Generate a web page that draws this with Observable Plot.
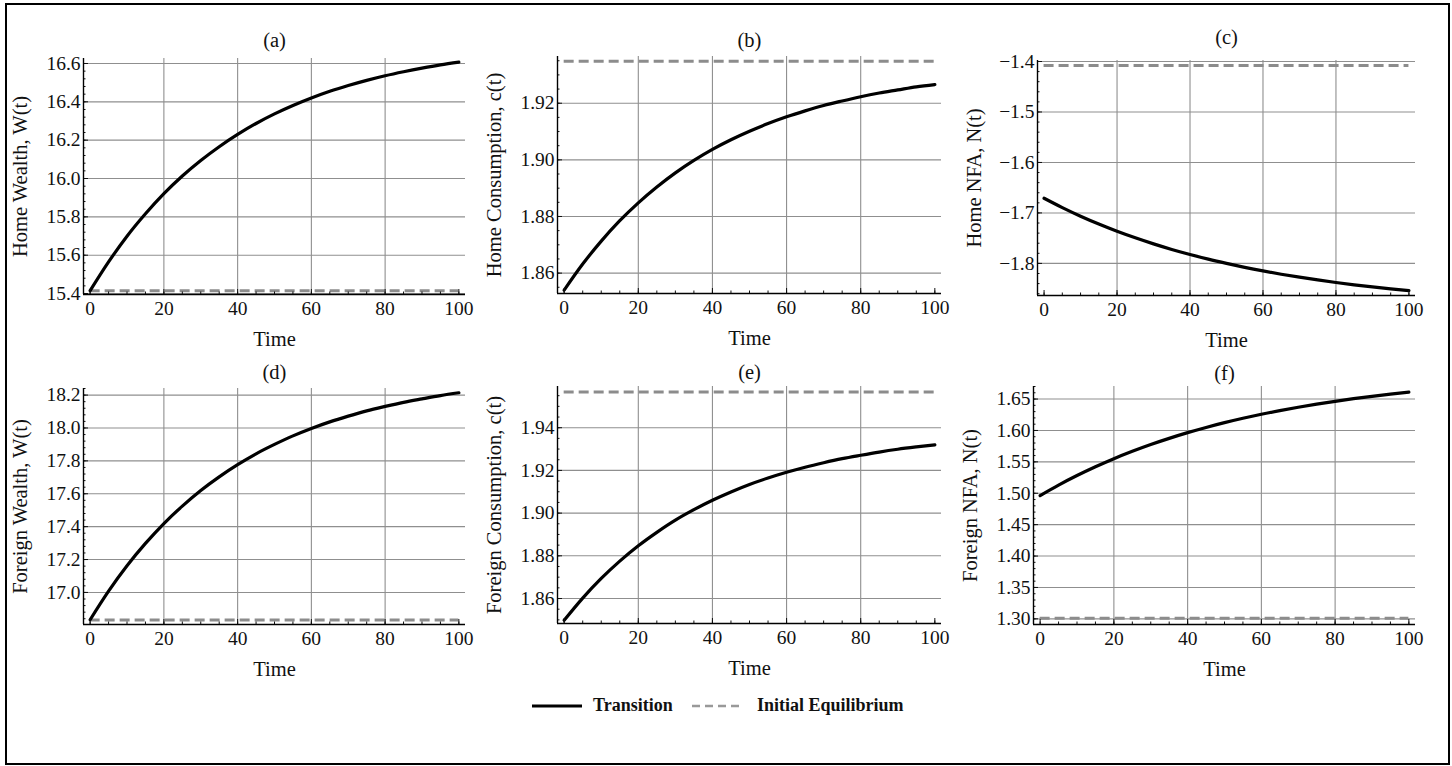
<!DOCTYPE html>
<html><head><meta charset="utf-8">
<script src="https://cdn.jsdelivr.net/npm/d3@7"></script>
<script src="https://cdn.jsdelivr.net/npm/@observablehq/plot@0.6"></script>
<style>
html,body{margin:0;padding:0;background:#fff;}
#root{position:relative;width:1452px;height:766px;overflow:hidden;font-family:"Liberation Serif","Times New Roman",serif;color:#111;}
#frame{position:absolute;left:5px;top:3px;width:1445px;height:762px;box-sizing:border-box;border:2px solid #000;}
.panel{position:absolute;}
.panel g[aria-label$="tick label"]{font-size:19.5px !important;}
.panel g[aria-label$="-axis label"]{font-size:20.5px !important;}
.leg{position:absolute;font-weight:bold;font-size:18px;line-height:20px;white-space:nowrap;}
</style></head>
<body><div id="root"><div id="frame"></div></div>
<script>
// ---------- data ----------
const time = [0,5,10,15,20,25,30,35,40,45,50,55,60,65,70,75,80,85,90,95,100];
const homeWealth = [15.415,15.565,15.699,15.816,15.921,16.013,16.094,16.166,16.230,16.287,16.337,16.381,16.420,16.455,16.485,16.512,16.536,16.557,16.576,16.593,16.607];
const homeConsumption = [1.8540,1.8632,1.8713,1.8785,1.8848,1.8904,1.8954,1.8998,1.9037,1.9071,1.9101,1.9128,1.9152,1.9173,1.9192,1.9208,1.9223,1.9236,1.9247,1.9258,1.9266];
const homeNFA = [-1.671,-1.6895,-1.7065,-1.7220,-1.7363,-1.7493,-1.7613,-1.7723,-1.7823,-1.7916,-1.8000,-1.8078,-1.8149,-1.8214,-1.8273,-1.8328,-1.8378,-1.8424,-1.8466,-1.8505,-1.8540];
const foreignWealth = [16.834,17.008,17.162,17.298,17.419,17.525,17.620,17.703,17.777,17.843,17.900,17.952,17.997,18.037,18.072,18.104,18.131,18.156,18.177,18.197,18.214];
const foreignConsumption = [1.8498,1.8602,1.8694,1.8775,1.8847,1.8910,1.8967,1.9016,1.9060,1.9099,1.9134,1.9164,1.9191,1.9215,1.9236,1.9255,1.9271,1.9286,1.9299,1.9310,1.9320];
const foreignNFA = [1.4963,1.5130,1.5282,1.5422,1.5551,1.5668,1.5776,1.5874,1.5965,1.6048,1.6124,1.6194,1.6258,1.6316,1.6370,1.6419,1.6464,1.6506,1.6544,1.6578,1.6610];

// initial equilibrium levels (dashed lines)
const initHomeWealth = 15.415;
const initHomeConsumption = 1.9348;
const initHomeNFA = -1.408;
const initForeignWealth = 16.832;
const initForeignConsumption = 1.9567;
const initForeignNFA = 1.301;

// tick labels
const xTicks = [0,20,40,60,80,100];
const xGridTicks = [20,40,60,80];
const ticksHomeWealth = [15.4,15.6,15.8,16.0,16.2,16.4,16.6];
const ticksHomeConsumption = [1.86,1.88,1.90,1.92];
const ticksHomeNFA = [-1.8,-1.7,-1.6,-1.5,-1.4];
const ticksForeignWealth = [17.0,17.2,17.4,17.6,17.8,18.0,18.2];
const ticksForeignConsumption = [1.86,1.88,1.90,1.92,1.94];
const ticksForeignNFA = [1.30,1.35,1.40,1.45,1.50,1.55,1.60,1.65];

const titles = ["(a)","(b)","(c)","(d)","(e)","(f)"];
const yLabels = ["Home Wealth, W(t)","Home Consumption, c(t)","Home NFA, N(t)","Foreign Wealth, W(t)","Foreign Consumption, c(t)","Foreign NFA, N(t)"];
const xLabel = "Time";
const legendLabels = ["Transition","Initial Equilibrium"];

// ---------- layout ----------
const xDomain = [-1.8, 101.8];
const panels = [
  {values: homeWealth, init: initHomeWealth, ticks: ticksHomeWealth, minorStep: 0.04, fmt: ".1f", yDomain: [15.395, 16.626], L: 83, R: 465, T: 58, B: 294, titleDy: -18},
  {values: homeConsumption, init: initHomeConsumption, ticks: ticksHomeConsumption, minorStep: 0.005, fmt: ".2f", yDomain: [1.8528, 1.9365], L: 557, R: 941, T: 56, B: 293, titleDy: -16},
  {values: homeNFA, init: initHomeNFA, ticks: ticksHomeNFA, minorStep: 0.02, fmt: ".1f", yDomain: [-1.8636, -1.398], L: 1037, R: 1415, T: 60, B: 295, titleDy: -23},
  {values: foreignWealth, init: initForeignWealth, ticks: ticksForeignWealth, minorStep: 0.04, fmt: ".1f", yDomain: [16.805, 18.24], L: 83, R: 465, T: 388, B: 624, titleDy: -16},
  {values: foreignConsumption, init: initForeignConsumption, ticks: ticksForeignConsumption, minorStep: 0.005, fmt: ".2f", yDomain: [1.8483, 1.9593], L: 557, R: 941, T: 386, B: 623, titleDy: -14},
  {values: foreignNFA, init: initForeignNFA, ticks: ticksForeignNFA, minorStep: 0.01, fmt: ".2f", yDomain: [1.291, 1.670], L: 1033, R: 1415, T: 386, B: 624, titleDy: -13}
];

const root = document.getElementById("root");
const mL = 84, mT = 44, mR = 12, mB = 58;
const xMinor = d3.range(0, 101, 5);

panels.forEach((p, i) => {
  const data = time.map((t, j) => ({t, v: p.values[j]}));
  const [lo, hi] = p.yDomain;
  const minor = d3.range(Math.ceil(lo / p.minorStep - 1e-6), Math.floor(hi / p.minorStep + 1e-6) + 1)
    .map(k => +(k * p.minorStep).toFixed(4));
  const width = p.R - p.L + mL + mR;
  const height = p.B - p.T + mT + mB;
  const chart = Plot.plot({
    width, height,
    marginLeft: mL, marginTop: mT, marginRight: mR, marginBottom: mB,
    style: {fontFamily: '"Liberation Serif","Times New Roman",serif', fontSize: "19px", color: "#111", background: "transparent", overflow: "visible"},
    x: {domain: xDomain},
    y: {domain: p.yDomain},
    marks: [
      Plot.gridY(p.ticks, {stroke: "#8f8f8f", strokeOpacity: 1, strokeWidth: 1.1}),
      Plot.gridX(xGridTicks, {stroke: "#8f8f8f", strokeOpacity: 1, strokeWidth: 1.1}),
      Plot.ruleY([p.init], {x1: 0, x2: 100, stroke: "#8c8c8c", strokeWidth: 3, strokeDasharray: "10,5"}),
      Plot.line(data, {x: "t", y: "v", stroke: "#000", strokeWidth: 3.2, curve: "monotone-x"}),
      Plot.axisY(minor, {tickSize: -2.5, tickFormat: () => "", label: null}),
      Plot.axisY(p.ticks, {tickSize: -5, tickFormat: () => "", label: null}),
      Plot.axisY(p.ticks, {tickSize: 0, tickPadding: 3, tickFormat: d3.format(p.fmt),
        label: yLabels[i], labelAnchor: "center", labelArrow: "none", labelOffset: 71}),
      Plot.axisX(xMinor, {tickSize: -2.5, tickFormat: () => "", label: null}),
      Plot.axisX(xTicks, {tickSize: -5, tickFormat: () => "", label: null}),
      Plot.axisX(xTicks, {tickSize: 0, tickPadding: 7, tickFormat: d3.format("d"),
        label: xLabel, labelAnchor: "center", labelArrow: "none", labelOffset: 51}),
      Plot.ruleX([xDomain[0]], {stroke: "#000", strokeWidth: 1.4}),
      Plot.ruleY([lo], {stroke: "#000", strokeWidth: 1.4}),
      Plot.text([titles[i]], {text: d => d, frameAnchor: "top", lineAnchor: "middle", dy: p.titleDy, fontSize: 20.5})
    ]
  });
  chart.classList.add("panel");
  chart.style.left = (p.L - mL) + "px";
  chart.style.top = (p.T - mT) + "px";
  root.appendChild(chart);
});

// ---------- legend ----------
const legendY = 706;
const ns = "http://www.w3.org/2000/svg";
function swatch(x1, x2, dashed) {
  const svg = document.createElementNS(ns, "svg");
  svg.setAttribute("width", x2 - x1 + 4);
  svg.setAttribute("height", 8);
  svg.style.position = "absolute";
  svg.style.left = (x1 - 2) + "px";
  svg.style.top = (legendY - 4) + "px";
  const l = document.createElementNS(ns, "line");
  l.setAttribute("x1", 2); l.setAttribute("x2", x2 - x1 + 2);
  l.setAttribute("y1", 4); l.setAttribute("y2", 4);
  l.setAttribute("stroke", dashed ? "#999" : "#000");
  l.setAttribute("stroke-width", dashed ? 2.5 : 3);
  if (dashed) l.setAttribute("stroke-dasharray", "8,5");
  svg.appendChild(l);
  root.appendChild(svg);
}
function legText(x, s) {
  const d = document.createElement("div");
  d.className = "leg";
  d.textContent = s;
  d.style.left = x + "px";
  d.style.top = (legendY - 11) + "px";
  root.appendChild(d);
}
swatch(532, 582, false);
legText(593, legendLabels[0]);
swatch(692, 740, true);
legText(757, legendLabels[1]);
</script>
</body></html>
